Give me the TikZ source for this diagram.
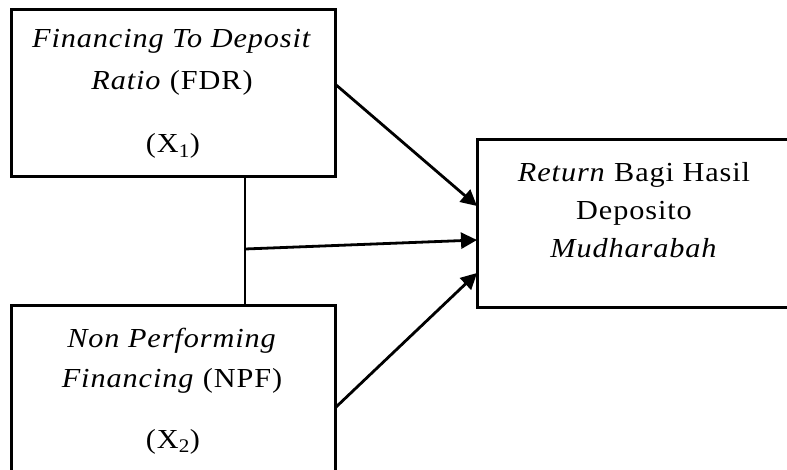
\documentclass[tikz,border=0pt]{standalone}
\usepackage{fontspec}
\usepackage{graphicx}
\setmainfont[LetterSpace=3]{Liberation Serif}
\usetikzlibrary{arrows.meta}
\newcommand{\hs}[1]{\scalebox{1.1}[1]{#1}}
\begin{document}
\begin{tikzpicture}[x=1pt,y=-1pt,
  box/.style={draw=black,line width=3pt,rectangle,inner sep=0pt},
  txt/.style={anchor=base,inner sep=0pt,font=\fontsize{27.5}{32}\selectfont},
  arr/.style={line width=2.8pt,-{Triangle[length=16pt,width=16pt]}},
  link/.style={line width=1.4pt}]
\useasboundingbox (0,0) rectangle (787,470);
\clip (0,0) rectangle (787,470);
\fill[white] (0,0) rectangle (787,470);
% boxes
\node[box,minimum width=324pt,minimum height=167pt] (fdr) at (173,93.5) {};
\node[box,minimum width=324pt,minimum height=180pt] (npf) at (173,396) {};
\node[box,minimum width=316pt,minimum height=168pt] (ret) at (635,224) {};
% texts
\node[txt] (t1) at (172,48) {\hs{\textit{Financing To Deposit}}};
\node[txt] (t2) at (172,90) {\hs{\textit{Ratio} (FDR)}};
\node[txt] (t3) at (173,153) {\hs{(X\textsubscript{1})}};
\node[txt] (t4) at (172,347) {\hs{\textit{Non Performing}}};
\node[txt] (t5) at (172,387) {\hs{\textit{Financing} (NPF)}};
\node[txt] (t6) at (173,448) {\hs{(X\textsubscript{2})}};
\node[txt] (t7) at (634,182) {\hs{\textit{Return} Bagi Hasil}};
\node[txt] (t8) at (634,220) {\hs{Deposito}};
\node[txt] (t9) at (634,258) {\hs{\textit{Mudharabah}}};
% connector points
\coordinate (a1s) at (335,84);
\coordinate (a1e) at (477,206);
\coordinate (vm) at (245,249);
\coordinate (a2e) at (477,240);
\coordinate (a3s) at (335,408);
\coordinate (a3e) at (477,273);
% connectors
\draw[link] (fdr.south -| vm) -- (npf.north -| vm);
\draw[arr] (a1s) -- (a1e);
\draw[arr] (vm) -- (a2e);
\draw[arr] (a3s) -- (a3e);
\end{tikzpicture}
\end{document}
